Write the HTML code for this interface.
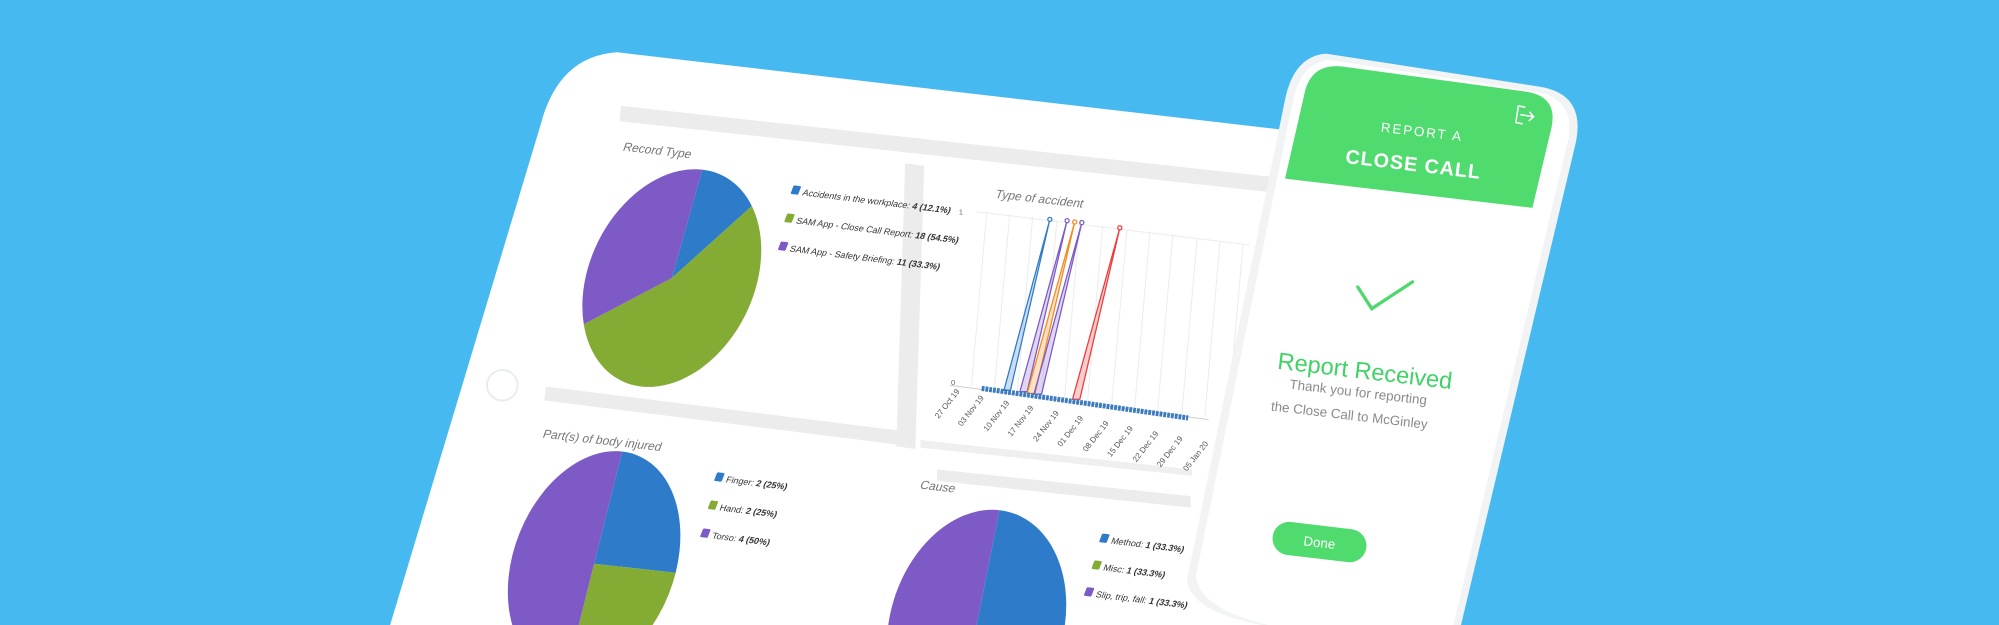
<!DOCTYPE html>
<html><head><meta charset="utf-8"><style>
html,body{margin:0;padding:0;background:#46baf0;width:1999px;height:625px;overflow:hidden;}
svg{display:block}
text{font-family:"Liberation Sans",sans-serif}
</style></head><body>
<svg width="1999" height="625" viewBox="0 0 1568 490" preserveAspectRatio="none" xmlns="http://www.w3.org/2000/svg">
<rect x="0" y="0" width="1568" height="490" fill="#46baf0"/>
<!-- tablet -->
<path d="M306,490 L424,98 Q438,44 484,41 L1060,108 L1010,490 Z" fill="#ffffff"/>
<circle cx="394" cy="302" r="12" fill="none" stroke="#e9ecef" stroke-width="1.5"/>
<!-- bands -->
<polygon points="487,83 1010,140 1009,152 486,95" fill="#ececec"/>
<polygon points="710,128 725,130 718,352 703,350" fill="#ececec"/>
<polygon points="428,303 709,338 708,349 427,314" fill="#ececec"/>
<polygon points="722,345 935,368 935,373 722,351" fill="#efefef"/>
<polygon points="735,368 934,389 934,398 735,377" fill="#ececec"/>
<!-- titles -->
<text transform="translate(488,118) rotate(6.5) skewX(-14)" font-size="9.5" fill="#777">Record Type</text>
<text transform="translate(780,155) rotate(6.5) skewX(-14)" font-size="9.5" fill="#777">Type of accident</text>
<text transform="translate(425,343) rotate(6.5) skewX(-14)" font-size="9.5" fill="#777">Part(s) of body injured</text>
<text transform="translate(721,383) rotate(6.5) skewX(-14)" font-size="9.5" fill="#777">Cause</text>
<!-- pie 1 -->
<g transform="translate(527,218) matrix(1 .11 -.28 1 0 0)">
<path d="M0,0 L0,-85 A66,85 0 0 1 45.5,-61.5 Z" fill="#2e7bc9"/>
<path d="M0,0 L45.5,-61.5 A66,85 0 1 1 -57.2,42.5 Z" fill="#84ac35"/>
<path d="M0,0 L-57.2,42.5 A66,85 0 0 1 0,-85 Z" fill="#7e5ac6"/>
</g>
<g font-size="7" fill="#333">
<g transform="translate(620,152) rotate(7) skewX(-14)"><rect x="0" y="-7" width="6" height="7" rx="1" fill="#2e7bc9"/><text x="9" y="0">Accidents in the workplace: <tspan font-weight="bold">4 (12.1%)</tspan></text></g>
<g transform="translate(615,174) rotate(7) skewX(-14)"><rect x="0" y="-7" width="6" height="7" rx="1" fill="#84ac35"/><text x="9" y="0">SAM App - Close Call Report: <tspan font-weight="bold">18 (54.5%)</tspan></text></g>
<g transform="translate(610,196) rotate(7) skewX(-14)"><rect x="0" y="-7" width="6" height="7" rx="1" fill="#7e5ac6"/><text x="9" y="0">SAM App - Safety Briefing: <tspan font-weight="bold">11 (33.3%)</tspan></text></g>
</g>
<!-- pie 3 -->
<g transform="translate(466,442) matrix(1 .11 -.25 1 0 0)">
<path d="M0,0 L0,-88 A64,88 0 0 1 64,0 Z" fill="#2e7bc9"/>
<path d="M0,0 L64,0 A64,88 0 0 1 0,88 Z" fill="#84ac35"/>
<path d="M0,0 L0,88 A64,88 0 0 1 0,-88 Z" fill="#7e5ac6"/>
</g>
<g font-size="7" fill="#333">
<g transform="translate(560,377) rotate(7) skewX(-14)"><rect x="0" y="-7" width="6" height="7" rx="1" fill="#2e7bc9"/><text x="9" y="0">Finger: <tspan font-weight="bold">2 (25%)</tspan></text></g>
<g transform="translate(555,399) rotate(7) skewX(-14)"><rect x="0" y="-7" width="6" height="7" rx="1" fill="#84ac35"/><text x="9" y="0">Hand: <tspan font-weight="bold">2 (25%)</tspan></text></g>
<g transform="translate(549,421) rotate(7) skewX(-14)"><rect x="0" y="-7" width="6" height="7" rx="1" fill="#7e5ac6"/><text x="9" y="0">Torso: <tspan font-weight="bold">4 (50%)</tspan></text></g>
</g>
<!-- pie 4 -->
<g transform="translate(766,490) matrix(1 .11 -.2 1 0 0)">
<path d="M0,0 L0,-90 A68,90 0 0 1 58.9,45 Z" fill="#2e7bc9"/>
<path d="M0,0 L58.9,45 A68,90 0 0 1 -58.9,45 Z" fill="#84ac35"/>
<path d="M0,0 L-58.9,45 A68,90 0 0 1 0,-90 Z" fill="#7e5ac6"/>
</g>
<g font-size="7" fill="#333">
<g transform="translate(862,425) rotate(7) skewX(-14)"><rect x="0" y="-7" width="6" height="7" rx="1" fill="#2e7bc9"/><text x="9" y="0">Method: <tspan font-weight="bold">1 (33.3%)</tspan></text></g>
<g transform="translate(856,446) rotate(7) skewX(-14)"><rect x="0" y="-7" width="6" height="7" rx="1" fill="#84ac35"/><text x="9" y="0">Misc: <tspan font-weight="bold">1 (33.3%)</tspan></text></g>
<g transform="translate(850,467) rotate(7) skewX(-14)"><rect x="0" y="-7" width="6" height="7" rx="1" fill="#7e5ac6"/><text x="9" y="0">Slip, trip, fall: <tspan font-weight="bold">1 (33.3%)</tspan></text></g>
</g>
<!-- line chart -->
<g stroke="#ececec" stroke-width="0.8" fill="none">
<line x1="774" y1="166" x2="762" y2="302"/>
<line x1="792" y1="168" x2="780" y2="305"/>
<line x1="810" y1="170" x2="798" y2="307"/>
<line x1="829" y1="173" x2="817" y2="310"/>
<line x1="847" y1="175" x2="835" y2="312"/>
<line x1="865" y1="177" x2="853" y2="315"/>
<line x1="884" y1="180" x2="872" y2="317"/>
<line x1="902" y1="182" x2="890" y2="320"/>
<line x1="920" y1="184" x2="908" y2="322"/>
<line x1="939" y1="187" x2="927" y2="325"/>
<line x1="957" y1="189" x2="945" y2="327"/>
<line x1="975" y1="191" x2="963" y2="330"/>
<line x1="766" y1="166" x2="980" y2="192"/>
</g>
<line x1="745" y1="302" x2="948" y2="329" stroke="#cfcfcf" stroke-width="0.8"/>
<text x="752" y="168" font-size="6" fill="#666">1</text>
<text x="746" y="302" font-size="6" fill="#666">0</text>
<!-- spikes -->
<polygon points="787.5,306 823.5,172 792.6,306" fill="#2e7bc9" fill-opacity=".25" stroke="#2e7bc9" stroke-width="1"/>
<polygon points="800,307 837,173 805.7,307" fill="#7e5ac6" fill-opacity=".25" stroke="#7e5ac6" stroke-width="1"/>
<polygon points="805.7,308.5 843,174 811.8,308.5" fill="#f58a1f" fill-opacity=".25" stroke="#f58a1f" stroke-width="1"/>
<polygon points="811,309 848.6,174.5 817,309" fill="#7e5ac6" fill-opacity=".25" stroke="#7e5ac6" stroke-width="1"/>
<polygon points="841.3,313 878.4,178.6 847,313" fill="#ee3b3b" fill-opacity=".25" stroke="#ee3b3b" stroke-width="1"/>
<g fill="#fff" stroke-width="1">
<circle cx="823.5" cy="172" r="1.6" stroke="#2e7bc9"/>
<circle cx="837" cy="173" r="1.6" stroke="#7e5ac6"/>
<circle cx="843" cy="174" r="1.6" stroke="#f58a1f"/>
<circle cx="848.6" cy="174.5" r="1.6" stroke="#7e5ac6"/>
<circle cx="878.4" cy="178.6" r="1.6" stroke="#ee3b3b"/>
</g>
<line x1="770" y1="304.5" x2="932" y2="327.7" stroke="#3a7bbf" stroke-width="4" stroke-dasharray="2.2 0.8"/>
<g font-size="6.3" fill="#555" text-anchor="end">
<text transform="translate(753,307) rotate(-52)">27 Oct 19</text>
<text transform="translate(772,312) rotate(-52)">03 Nov 19</text>
<text transform="translate(792,316) rotate(-52)">10 Nov 19</text>
<text transform="translate(811,320) rotate(-52)">17 Nov 19</text>
<text transform="translate(831,324) rotate(-52)">24 Nov 19</text>
<text transform="translate(850,328) rotate(-52)">01 Dec 19</text>
<text transform="translate(870,332) rotate(-52)">08 Dec 19</text>
<text transform="translate(889,336) rotate(-52)">15 Dec 19</text>
<text transform="translate(909,340) rotate(-52)">22 Dec 19</text>
<text transform="translate(928,344) rotate(-52)">29 Dec 19</text>
<text transform="translate(948,348) rotate(-52)">05 Jan 20</text>
</g>
<!-- phone -->
<path d="M1040,42 L1208,68 Q1244,74 1236,112 L1146,490 L990,490 Q935,480 931,455 L1008,78 Q1015,44 1040,42 Z" fill="#f1f3f4"/>
<path d="M1043,47 L1206,72 Q1236,78 1230,110 L1140,490 L995,490 Q942,478 938,452 L1014,80 Q1020,49 1043,47 Z" fill="#ffffff"/>
<path d="M1008,140 L1024,70 Q1030,50 1052,52 L1198,72 Q1222,76 1217,100 L1202,163 Z" fill="#4fdb6e"/>
<g fill="none" stroke="#fff" stroke-width="1.2" stroke-linecap="round" stroke-linejoin="round">
<path d="M1196,84 L1191,83 L1189,96 L1194,97"/>
<path d="M1193,90 L1203,91.5 M1200,88 L1203,91.5 L1199.5,94.5"/>
</g>
<text transform="translate(1115,107) rotate(6.7)" font-size="10.5" fill="#fff" text-anchor="middle" letter-spacing="1.5">REPORT A</text>
<text transform="translate(1108,134) rotate(6.7)" font-size="15.5" font-weight="bold" fill="#fff" text-anchor="middle" letter-spacing="0.8">CLOSE CALL</text>
<polyline points="1065,225 1076,242 1108,221" fill="none" stroke="#4fd86c" stroke-width="2.6" stroke-linecap="round"/>
<text transform="translate(1070,297) rotate(6.7)" font-size="18.5" fill="#3fd264" text-anchor="middle">Report Received</text>
<text transform="translate(1065,311) rotate(6.7)" font-size="10.5" fill="#8a8a8a" text-anchor="middle">Thank you for reporting</text>
<text transform="translate(1058,329) rotate(6.7)" font-size="10.5" fill="#8a8a8a" text-anchor="middle">the Close Call to McGinley</text>
<g transform="translate(1035,425) rotate(6.7)">
<rect x="-37" y="-13" width="74" height="26" rx="13" fill="#4fdb6e"/>
<text x="0" y="4" font-size="10.5" fill="#fff" text-anchor="middle">Done</text>
</g>
</svg>
</body></html>
